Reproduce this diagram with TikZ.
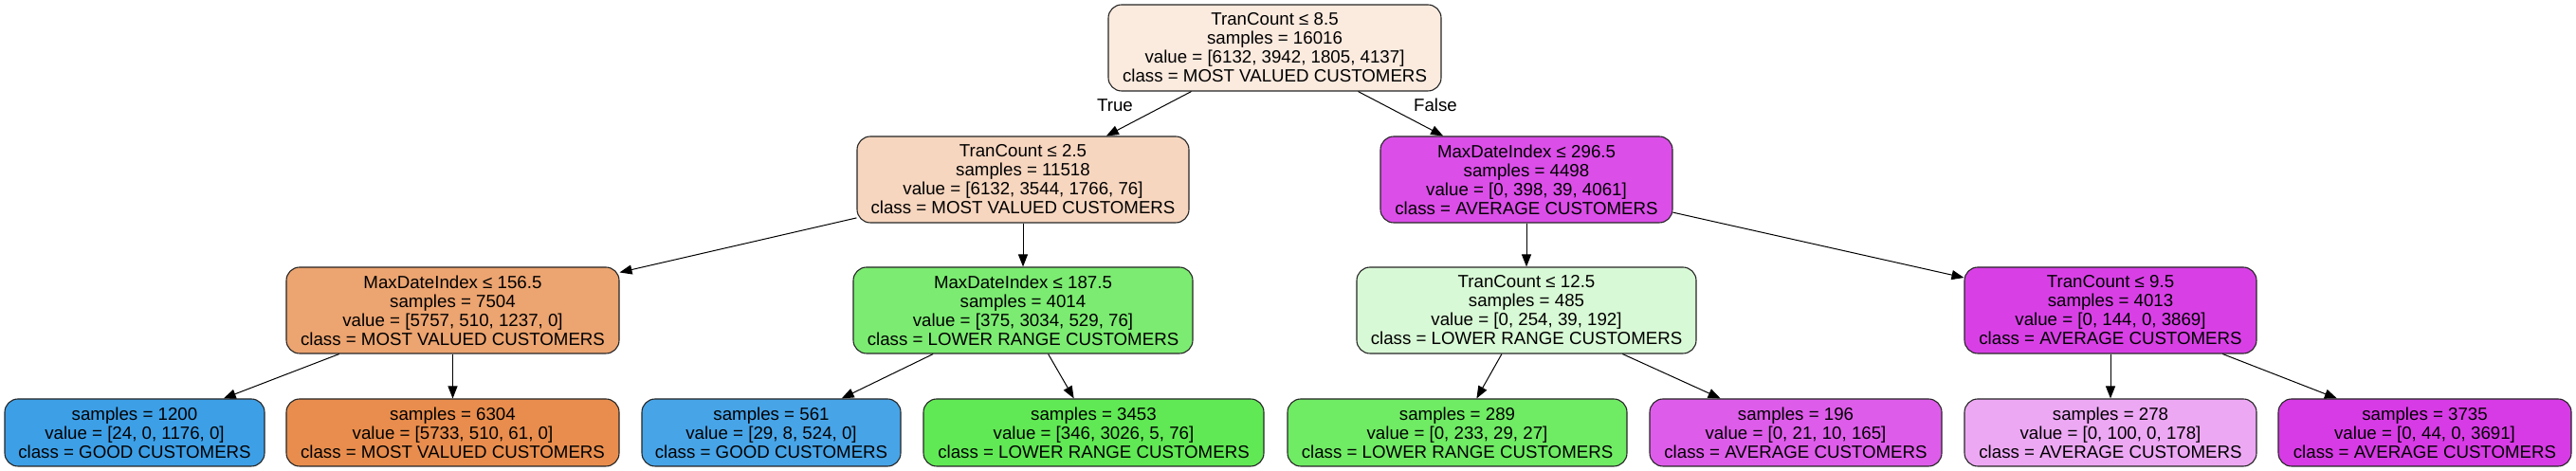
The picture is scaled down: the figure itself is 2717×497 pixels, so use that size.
\documentclass[tikz,border=0pt]{standalone}
\usepackage{fontspec}
\setmainfont{Liberation Sans}
\usetikzlibrary{arrows.meta}
\definecolor{cA}{RGB}{229,129,57}
\definecolor{cB}{RGB}{71,229,57}
\definecolor{cC}{RGB}{57,157,229}
\definecolor{cD}{RGB}{215,57,229}
\begin{document}
\begin{tikzpicture}[x=1pt,y=1pt,
  tn/.style={draw=black!85, line width=1.1pt, rounded corners=14pt, inner sep=0pt,
    align=center, minimum height=91pt, font=\fontsize{18.7}{20}\selectfont},
  leaf/.style={tn, minimum height=71pt},
  edge/.style={draw=black, line width=1pt, -{Triangle[length=13pt,width=10pt]}},
  elab/.style={font=\fontsize{18.7}{20}\selectfont, inner sep=0pt}]
\useasboundingbox (0,0) rectangle (2717,497);
% level 0
\node[tn, fill=cA!16.8, minimum width=351pt] (root) at (1344.5,446.5)
  {TranCount ≤ 8.5\\samples = 16016\\value = [6132, 3942, 1805, 4137]\\class = MOST VALUED CUSTOMERS};
% level 1
\node[tn, fill=cA!32.5, minimum width=350pt] (n1) at (1079,307.5)
  {TranCount ≤ 2.5\\samples = 11518\\value = [6132, 3544, 1766, 76]\\class = MOST VALUED CUSTOMERS};
\node[tn, fill=cD!89.3, minimum width=308pt] (n8) at (1610,307.5)
  {MaxDateIndex ≤ 296.5\\samples = 4498\\value = [0, 398, 39, 4061]\\class = AVERAGE CUSTOMERS};
% level 2
\node[tn, fill=cA!72.1, minimum width=351pt] (n2) at (477.5,169.5)
  {MaxDateIndex ≤ 156.5\\samples = 7504\\value = [5757, 510, 1237, 0]\\class = MOST VALUED CUSTOMERS};
\node[tn, fill=cB!71.9, minimum width=358pt] (n5) at (1079,169.5)
  {MaxDateIndex ≤ 187.5\\samples = 4014\\value = [375, 3034, 529, 76]\\class = LOWER RANGE CUSTOMERS};
\node[tn, fill=cB!21.2, minimum width=358pt] (n9) at (1610,169.5)
  {TranCount ≤ 12.5\\samples = 485\\value = [0, 254, 39, 192]\\class = LOWER RANGE CUSTOMERS};
\node[tn, fill=cD!96.3, minimum width=308pt] (n12) at (2226,169.5)
  {TranCount ≤ 9.5\\samples = 4013\\value = [0, 144, 0, 3869]\\class = AVERAGE CUSTOMERS};
% level 3
\node[leaf, fill=cC!98, minimum width=274pt] (n3) at (142,40.5)
  {samples = 1200\\value = [24, 0, 1176, 0]\\class = GOOD CUSTOMERS};
\node[leaf, fill=cA!90.1, minimum width=351pt] (n4) at (477.5,40.5)
  {samples = 6304\\value = [5733, 510, 61, 0]\\class = MOST VALUED CUSTOMERS};
\node[leaf, fill=cC!93, minimum width=273pt] (n6) at (813.5,40.5)
  {samples = 561\\value = [29, 8, 524, 0]\\class = GOOD CUSTOMERS};
\node[leaf, fill=cB!86.3, minimum width=359pt] (n7) at (1153.5,40.5)
  {samples = 3453\\value = [346, 3026, 5, 76]\\class = LOWER RANGE CUSTOMERS};
\node[leaf, fill=cB!78.5, minimum width=358pt] (n10) at (1537,40.5)
  {samples = 289\\value = [0, 233, 29, 27]\\class = LOWER RANGE CUSTOMERS};
\node[leaf, fill=cD!82.3, minimum width=308pt] (n11) at (1894,40.5)
  {samples = 196\\value = [0, 21, 10, 165]\\class = AVERAGE CUSTOMERS};
\node[leaf, fill=cD!43.8, minimum width=308pt] (n13) at (2226,40.5)
  {samples = 278\\value = [0, 100, 0, 178]\\class = AVERAGE CUSTOMERS};
\node[leaf, fill=cD!98.8, minimum width=309pt] (n14) at (2557.5,40.5)
  {samples = 3735\\value = [0, 44, 0, 3691]\\class = AVERAGE CUSTOMERS};
% edges
\draw[edge] (root) -- (n1);
\draw[edge] (root) -- (n8);
\draw[edge] (n1) -- (n2);
\draw[edge] (n1) -- (n5);
\draw[edge] (n8) -- (n9);
\draw[edge] (n8) -- (n12);
\draw[edge] (n2) -- (n3);
\draw[edge] (n2) -- (n4);
\draw[edge] (n5) -- (n6);
\draw[edge] (n5) -- (n7);
\draw[edge] (n9) -- (n10);
\draw[edge] (n9) -- (n11);
\draw[edge] (n12) -- (n13);
\draw[edge] (n12) -- (n14);
% edge labels
\node[elab] (ltrue) at (1176,386) {True};
\node[elab] (lfalse) at (1514,386) {False};
\end{tikzpicture}
\end{document}
